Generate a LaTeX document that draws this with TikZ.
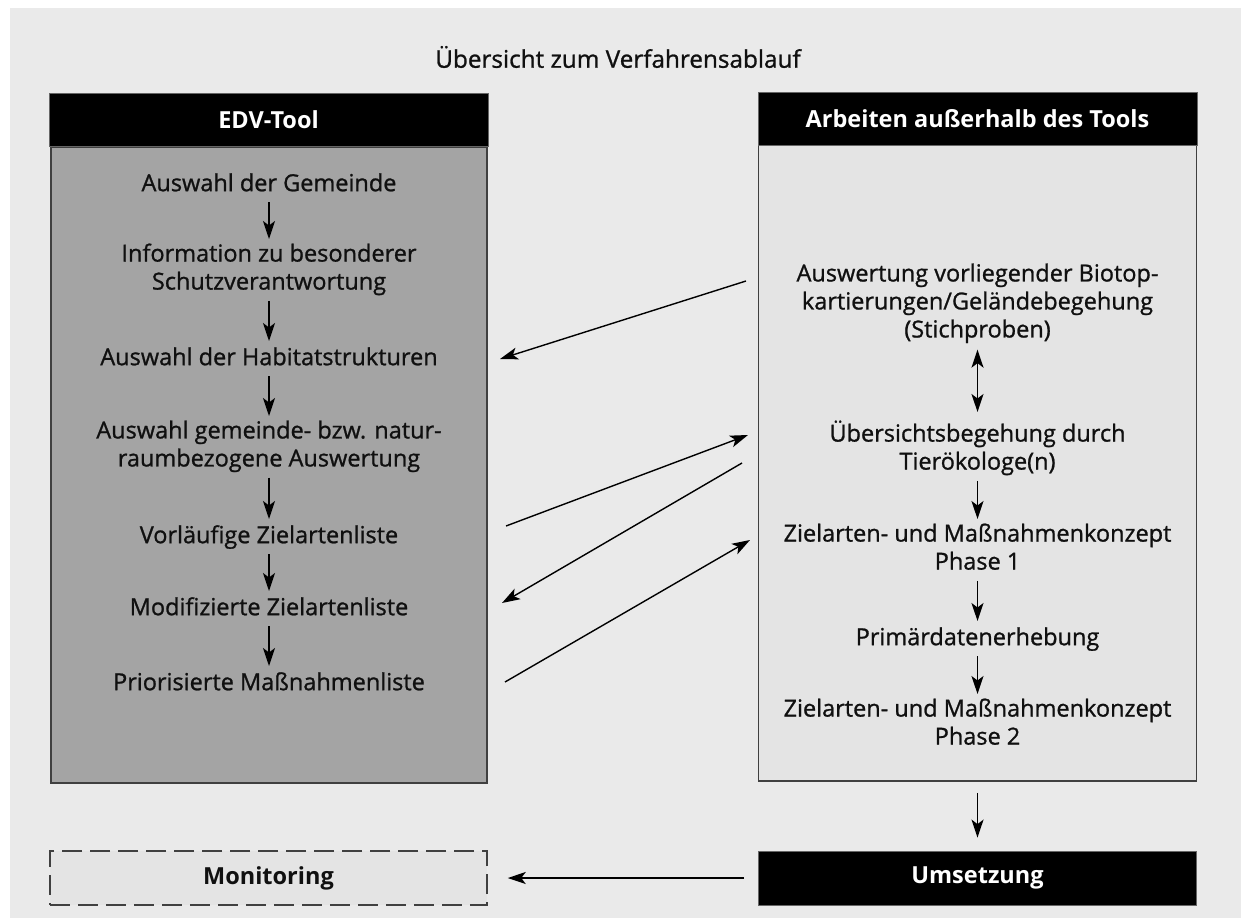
\documentclass[tikz,border=0pt]{standalone}
\usepackage{fontspec}
\setmainfont{Open Sans}
\newfontfamily\txtfont{Open Sans}[FakeBold=1]
\usetikzlibrary{arrows.meta}
\definecolor{bgc}{HTML}{EAEAEA}
\definecolor{leftc}{HTML}{A4A4A4}
\definecolor{rightc}{HTML}{E4E4E4}
\definecolor{monc}{HTML}{E4E4E4}
\definecolor{txtc}{HTML}{101010}
\begin{document}
\begin{tikzpicture}[x=1pt,y=-1pt,
  txt/.style={font=\txtfont\fontsize{23.5}{28}\selectfont, align=center, inner sep=0pt,
    text=txtc, anchor=north, execute at begin node=\strut, execute at end node=\strut},
  hdr/.style={fill=black, draw=black!60, line width=0.8pt, text=white!92,
    font=\bfseries\fontsize{23.5}{28}\selectfont, minimum width=439pt, minimum height=53pt, inner sep=0pt},
  colbody/.style={draw=black!75, line width=1.6pt, inner sep=0pt},
  arr/.style={line width=1.6pt, -{Stealth[length=18pt,width=12pt,inset=4.5pt]}},
  darr/.style={line width=1.6pt, {Stealth[length=18pt,width=12pt,inset=4.5pt]}-{Stealth[length=18pt,width=12pt,inset=4.5pt]}},
  xarr/.style={line width=1.4pt, -{Stealth[length=18pt,width=12pt,inset=4.5pt]}},
  varr/.style={arr, shorten <=2.6pt, shorten >=4.4pt},
]
\useasboundingbox (0,0) rectangle (1241,918);
\fill[white] (0,0) rectangle (1241,918);
\fill[bgc] (10,8) rectangle (1241,918);

% title
\node[font=\txtfont\fontsize{24.3}{28}\selectfont, text=txtc, inner sep=0pt] (title) at (618,57) {Übersicht zum Verfahrensablauf};

% columns
\node[colbody, fill=leftc, minimum width=436pt, minimum height=636pt] (lbody) at (269,465) {};
\node[colbody, fill=rightc, minimum width=438pt, minimum height=636pt] (rbody) at (977.5,463) {};
\node[hdr] (lhead) at (268.5,120) {EDV-Tool};
\node[hdr] (rhead) at (977.5,119) {Arbeiten außerhalb des Tools};

% left column
\node[txt] (L1) at (269,171.4) {Auswahl der Gemeinde};
\node[txt] (L2) at (269,243.4) {Information zu besonderer\\Schutzverantwortung};
\node[txt] (L3) at (269,345.4) {Auswahl der Habitatstrukturen};
\node[txt] (L4) at (269,420.4) {Auswahl gemeinde- bzw. natur-\\raumbezogene Auswertung};
\node[txt] (L5) at (269,523.4) {Vorläufige Zielartenliste};
\node[txt] (L6) at (269,595.4) {Modifizierte Zielartenliste};
\node[txt] (L7) at (269,670.4) {Priorisierte Maßnahmenliste};

\draw[varr] (L1.south) -- (L2.north);
\draw[varr] (L2.south) -- (L3.north);
\draw[varr] (L3.south) -- (L4.north);
\draw[varr] (L4.south) -- (L5.north);
\draw[varr] (L5.south) -- (L6.north);
\draw[varr] (L6.south) -- (L7.north);

% right column
\node[txt] (R1) at (977.5,263.4) {Auswertung vorliegender Biotop-\\kartierungen/Geländebegehung\\(Stichproben)};
\node[txt] (R2) at (977.5,420.4) {Übersichtsbegehung durch\\Tierökologe(n)};
\node[txt] (R3) at (977.5,523.4) {Zielarten- und Maßnahmenkonzept\\Phase 1};
\node[txt] (R4) at (977.5,625.4) {Primärdatenerhebung};
\node[txt] (R5) at (977.5,698.4) {Zielarten- und Maßnahmenkonzept\\Phase 2};

\draw[darr, shorten <=3.6pt, shorten >=8.4pt] (R1.south) -- (R2.north);
\draw[varr] (R2.south) -- (R3.north);
\draw[varr] (R3.south) -- (R4.north);
\draw[varr] (R4.south) -- (R5.north);

% cross connectors
\coordinate (x1s) at (746,281);
\coordinate (x1e) at (500,359);
\coordinate (x2s) at (506,526);
\coordinate (x2e) at (748,435);
\coordinate (x3s) at (742,463);
\coordinate (x3e) at (502,603);
\coordinate (x4s) at (505,682);
\coordinate (x4e) at (750,540);
\draw[xarr] (x1s) -- (x1e);
\draw[xarr] (x2s) -- (x2e);
\draw[xarr] (x3s) -- (x3e);
\draw[xarr] (x4s) -- (x4e);

% bottom row
\node[hdr, minimum width=438pt, minimum height=54pt] (ums) at (977.5,878) {Umsetzung};
\node[draw=black!75, line width=1.5pt, dash pattern=on 20pt off 8pt, fill=monc,
  minimum width=437pt, minimum height=54pt, inner sep=0pt, text=txtc,
  font=\bfseries\fontsize{23.5}{28}\selectfont] (mon) at (268.5,878) {Monitoring};

\draw[arr, shorten <=11pt, shorten >=13pt] (rbody.south) -- (ums.north);
\draw[arr, shorten <=14pt, shorten >=20pt] (ums.west) -- (mon.east);
\end{tikzpicture}
\end{document}
